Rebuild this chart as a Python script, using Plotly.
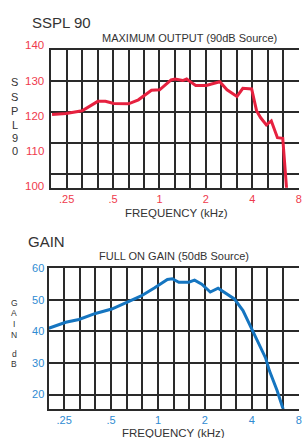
import math
import plotly.graph_objects as go

# ---------------- data ----------------
sspl_freq = [0.201, 0.248, 0.315, 0.350, 0.398, 0.446, 0.505, 0.630, 0.730, 0.887, 1.002,
             1.19, 1.262, 1.414, 1.50, 1.598, 1.718, 2.01, 2.46, 2.74, 3.18, 3.47, 3.80,
             3.96, 4.26, 4.52, 4.93, 5.31, 5.82, 6.30, 6.68]
sspl_db = [119.3, 119.6, 120.5, 121.9, 123.5, 123.5, 122.8, 122.7, 124.0, 127.1, 127.2,
           130.4, 130.7, 130.2, 130.7, 129.7, 128.6, 128.6, 129.8, 127.2, 125.1, 127.7, 127.7,
           127.5, 120.5, 118.3, 115.9, 117.2, 111.8, 111.6, 95.0]

gain_freq = [0.199, 0.256, 0.311, 0.397, 0.505, 0.643, 0.78, 0.947, 1.149, 1.235, 1.36,
             1.575, 1.717, 1.909, 2.165, 2.43, 3.09, 3.51, 4.04, 4.56, 4.90, 5.19, 5.81, 6.39]
gain_db = [41.0, 42.9, 43.8, 45.7, 47.1, 49.4, 51.25, 53.8, 56.5, 56.7, 55.6,
           55.6, 56.25, 55.0, 52.5, 53.7, 50.3, 46.6, 40.5, 34.8, 31.6, 27.5, 21.25, 15.0]

freq_ticks = [0.25, 0.5, 1, 2, 4, 8]
freq_tick_labels = [".25", ".5", "1", "2", "4", "8"]
sspl_ticks = [100, 110, 120, 130, 140]
gain_ticks = [20, 30, 40, 50, 60]

# ---------------- styling ----------------
W, H = 302, 438
FONT = "Liberation Sans, Arial, Helvetica, sans-serif"
RED_LINE = "#e6213f"
RED_TEXT = "#ef3a4c"
BLUE_LINE = "#1575c0"
BLUE_TEXT = "#2f8bd2"
GRID = "#2a2a2a"
TXT = "#333333"

# 1/3-octave grid positions (0.2 kHz .. 8 kHz)
grid_f = [2 ** (k / 3) for k in range(-7, 10)]
grid_text = []
for f in grid_f:
    lab = ""
    for tv, tl in zip(freq_ticks, freq_tick_labels):
        if abs(f - tv) < 1e-6:
            lab = tl
    grid_text.append(lab)


def py(p):
    """pixel y (from top) -> paper coordinate"""
    return 1 - p / H


def px(p):
    return p / W


fig = go.Figure()
fig.add_trace(go.Scatter(x=sspl_freq, y=sspl_db, mode="lines",
                         line=dict(color=RED_LINE, width=3), xaxis="x", yaxis="y",
                         hoverinfo="skip", cliponaxis=True))
fig.add_trace(go.Scatter(x=gain_freq, y=gain_db, mode="lines",
                         line=dict(color=BLUE_LINE, width=3), xaxis="x2", yaxis="y2",
                         hoverinfo="skip", cliponaxis=True))

common_x = dict(type="log", tickmode="array", tickvals=grid_f, ticktext=grid_text,
                showgrid=True, gridcolor=GRID, gridwidth=2, showline=True,
                linecolor=GRID, linewidth=2, mirror=True, ticks="", zeroline=False,
                ticklabeloverflow="allow",
                tickfont=dict(family=FONT, size=11))
common_y = dict(showgrid=True, gridcolor=GRID, gridwidth=2, showline=True,
                linecolor=GRID, linewidth=2, ticks="", zeroline=False,
                tickmode="array", tickfont=dict(family=FONT, size=11))

fig.update_layout(
    width=W, height=H, margin=dict(l=0, r=0, t=0, b=0),
    paper_bgcolor="white", plot_bgcolor="white", showlegend=False,
    xaxis=dict(common_x, domain=[px(51.7), 1],
               range=[math.log10(2 ** (-7 / 3)), math.log10(8.03)],
               anchor="y", tickfont=dict(family=FONT, size=11, color=RED_TEXT)),
    yaxis=dict(common_y, domain=[py(184.3), py(44.7)], range=[95.7, 140],
               tickvals=sspl_ticks, showticklabels=False, anchor="x"),
    xaxis2=dict(common_x, domain=[px(49), 1],
                range=[math.log10(2 ** (-7 / 3)), math.log10(8.03)],
                anchor="y2", tickfont=dict(family=FONT, size=11, color=BLUE_TEXT)),
    yaxis2=dict(common_y, domain=[py(408.3), py(266)], range=[15.5, 60],
                tickvals=gain_ticks, anchor="x2",
                tickfont=dict(family=FONT, size=11, color=BLUE_TEXT)),
)

ann = []


def text(x, y, s, size, color=TXT, xanchor="center"):
    ann.append(dict(x=px(x), y=py(y), xref="paper", yref="paper", text=s,
                    showarrow=False, xanchor=xanchor, yanchor="middle",
                    font=dict(family=FONT, size=size, color=color)))


# titles
text(30, 17, "SSPL 90", 15, xanchor="left")
text(191.5, 32.3, "MAXIMUM OUTPUT (90dB Source)", 11)
text(178, 210, "FREQUENCY (kHz)", 11.5)
text(26.5, 239, "GAIN", 15, xanchor="left")
text(175.5, 253.3, "FULL ON GAIN (50dB Source)", 11)
text(175, 433.3, "FREQUENCY (kHz)", 11.5)

# top y tick labels (offset from the grid in the original)
label_pos = [183, 147, 111.7, 76, 40]
for v, p in zip(sspl_ticks, label_pos):
    text(46.5, p, str(v), 11.5, RED_TEXT, xanchor="right")

# vertical axis captions
for ch, p in zip("SSPL90", [77, 92, 106.5, 120.5, 133.5, 147.5]):
    text(15, p, ch, 11)
for ch, p in zip("GAIN", [301.5, 311.5, 322.5, 333.3]):
    text(14.5, p, ch, 8.5)
for ch, p in zip("dB", [352.8, 363.3]):
    text(14.5, p, ch, 8.5)

fig.update_layout(annotations=ann)
fig.write_html("out.html", config={"displayModeBar": False, "staticPlot": True},
               post_script="document.body.style.margin='0';document.body.style.overflow='hidden';")
